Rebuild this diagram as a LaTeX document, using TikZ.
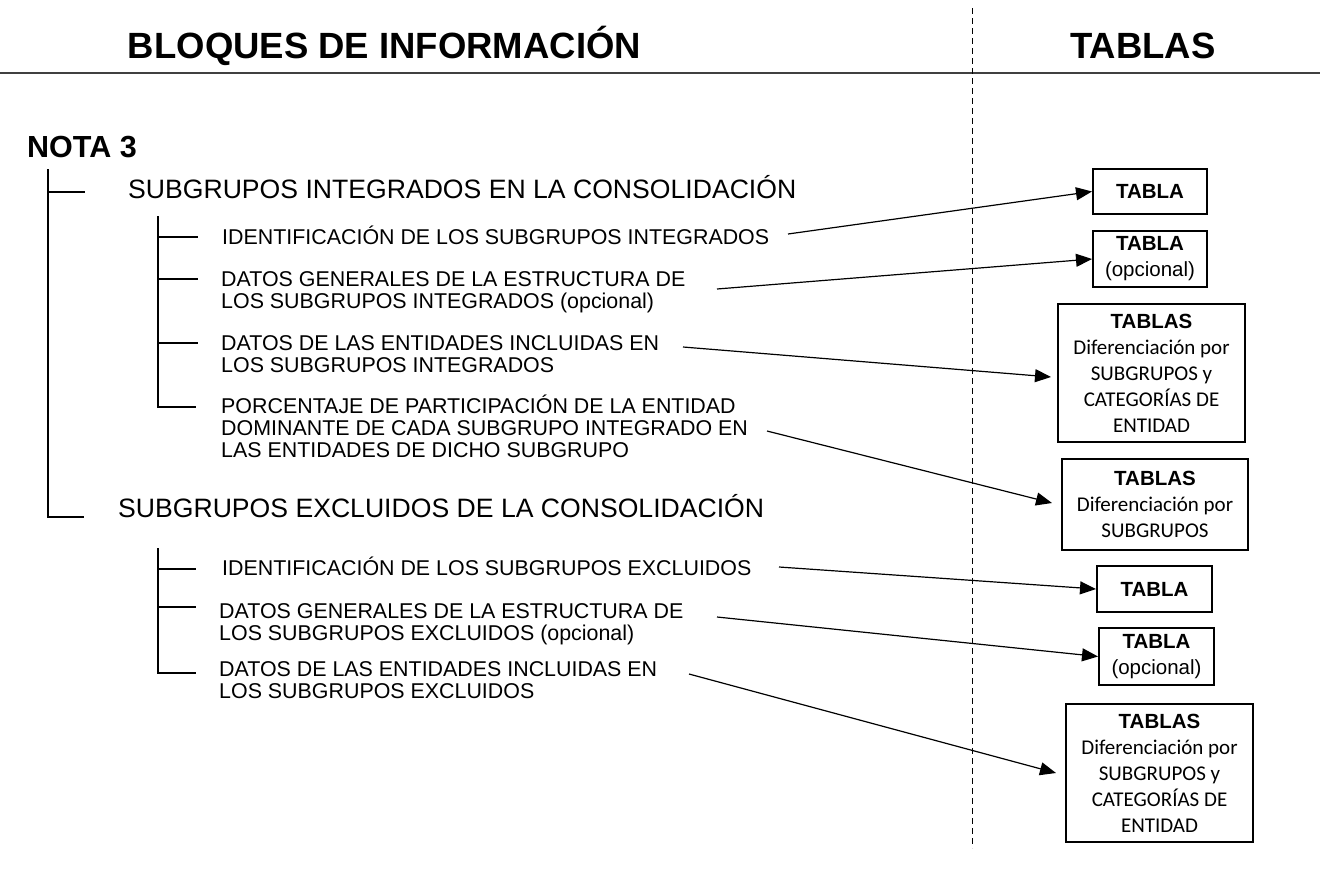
\documentclass[tikz,border=0pt]{standalone}
\usepackage{fontspec}
\setmainfont{Liberation Sans}
\newfontfamily\carlito{Carlito}
\usetikzlibrary{arrows.meta}
\begin{document}
\begin{tikzpicture}[x=1pt,y=-1pt,
  tree/.style={line width=1.1pt},
  arr/.style={line width=1.2pt,-{Triangle[length=16pt,width=13pt]}},
  tbox/.style={draw,line width=2pt,inner sep=0pt,align=center,font=\fontsize{20.5}{26}\selectfont},
  item/.style={anchor=base west,inner sep=0pt,font=\fontsize{21.4}{22}\selectfont},
  grp/.style={anchor=base west,inner sep=0pt,font=\fontsize{26.6}{28}\selectfont},
  head/.style={anchor=base,inner sep=0pt,font=\fontsize{36.5}{40}\selectfont\bfseries}
]
\useasboundingbox (0,0) rectangle (1322,870);

% headers
\node[head] (h1) at (384.5,58) {BLOQUES DE INFORMACIÓN};
\node[head] (h2) at (1143,58) {TABLAS};
\draw[line width=1.6pt,black!75] (0,73) -- (1320,73);
\draw[line width=1pt,dash pattern=on 6pt off 4pt] (972,8) -- (972,848);

% nota
\node[anchor=base west,inner sep=0pt,font=\fontsize{30.5}{32}\selectfont\bfseries] (nota) at (27,157) {NOTA 3};

% tree lines
\draw[tree] (48,169) -- (48,517) -- (84,517);
\draw[tree] (48,192) -- (85,192);
\draw[tree] (158,216) -- (158,407) -- (196,407);
\draw[tree] (158,237) -- (198,237);
\draw[tree] (158,279) -- (198,279);
\draw[tree] (158,343) -- (198,343);
\draw[tree] (158,548) -- (158,673) -- (196,673);
\draw[tree] (158,569) -- (196,569);
\draw[tree] (158,607) -- (196,607);

% group titles
\node[grp] (g1) at (128,198) {SUBGRUPOS INTEGRADOS EN LA CONSOLIDACIÓN};
\node[grp] (g2) at (118,517) {SUBGRUPOS EXCLUIDOS DE LA CONSOLIDACIÓN};

% items
\node[item] (i1) at (222,244.5) {IDENTIFICACIÓN DE LOS SUBGRUPOS INTEGRADOS};
\node[item] (i2) at (221,286.5) {\begin{tabular}[t]{@{}l@{}}DATOS GENERALES DE LA ESTRUCTURA DE\\LOS SUBGRUPOS INTEGRADOS (opcional)\end{tabular}};
\node[item] (i3) at (221,350.5) {\begin{tabular}[t]{@{}l@{}}DATOS DE LAS ENTIDADES INCLUIDAS EN\\LOS SUBGRUPOS INTEGRADOS\end{tabular}};
\node[item] (i4) at (221,413.5) {\begin{tabular}[t]{@{}l@{}}PORCENTAJE DE PARTICIPACIÓN DE LA ENTIDAD\\DOMINANTE DE CADA SUBGRUPO INTEGRADO EN\\LAS ENTIDADES DE DICHO SUBGRUPO\end{tabular}};
\node[item] (i5) at (222,575.5) {IDENTIFICACIÓN DE LOS SUBGRUPOS EXCLUIDOS};
\node[item] (i6) at (219,618.5) {\begin{tabular}[t]{@{}l@{}}DATOS GENERALES DE LA ESTRUCTURA DE\\LOS SUBGRUPOS EXCLUIDOS (opcional)\end{tabular}};
\node[item] (i7) at (219,676.5) {\begin{tabular}[t]{@{}l@{}}DATOS DE LAS ENTIDADES INCLUIDAS EN\\LOS SUBGRUPOS EXCLUIDOS\end{tabular}};

% boxes
\node[tbox,minimum width=114pt,minimum height=45pt] (b1) at (1150,191.5) {\bfseries TABLA};
\node[tbox,minimum width=114pt,minimum height=56pt] (b2) at (1150,259) {{\bfseries TABLA}\\(opcional)};
\node[tbox,minimum width=187pt,minimum height=138pt] (b3) at (1151.5,373) {{\bfseries TABLAS}\\{\carlito\fontsize{21}{26}\selectfont Diferenciación por}\\{\carlito\fontsize{21}{26}\selectfont SUBGRUPOS y}\\{\carlito\fontsize{21}{26}\selectfont CATEGORÍAS DE}\\{\carlito\fontsize{21}{26}\selectfont ENTIDAD}};
\node[tbox,minimum width=186pt,minimum height=91pt] (b4) at (1155,504.5) {{\bfseries TABLAS}\\{\carlito\fontsize{21}{26}\selectfont Diferenciación por}\\{\carlito\fontsize{21}{26}\selectfont SUBGRUPOS}};
\node[tbox,minimum width=115pt,minimum height=46pt] (b5) at (1154.5,589) {\bfseries TABLA};
\node[tbox,minimum width=115pt,minimum height=57pt] (b6) at (1156.5,656.5) {{\bfseries TABLA}\\(opcional)};
\node[tbox,minimum width=187pt,minimum height=138pt] (b7) at (1159.5,773) {{\bfseries TABLAS}\\{\carlito\fontsize{21}{26}\selectfont Diferenciación por}\\{\carlito\fontsize{21}{26}\selectfont SUBGRUPOS y}\\{\carlito\fontsize{21}{26}\selectfont CATEGORÍAS DE}\\{\carlito\fontsize{21}{26}\selectfont ENTIDAD}};

% arrow starts
\coordinate (s1) at (788,234);
\coordinate (s2) at (717,289);
\coordinate (s3) at (683,347);
\coordinate (s4) at (767,431);
\coordinate (s5) at (779,567);
\coordinate (s6) at (717,617);
\coordinate (s7) at (689,674);

\draw[arr] (s1) -- (b1.west);
\draw[arr] (s2) -- (b2.west);
\draw[arr] (s3) -- ([xshift=-6pt,yshift=-4pt]b3.west);
\draw[arr] (s4) -- ([xshift=-9pt,yshift=1.5pt]b4.west);
\draw[arr] (s5) -- (b5.west);
\draw[arr] (s6) -- (b6.west);
\draw[arr] (s7) -- ([xshift=-9pt]b7.west);
\end{tikzpicture}
\end{document}
